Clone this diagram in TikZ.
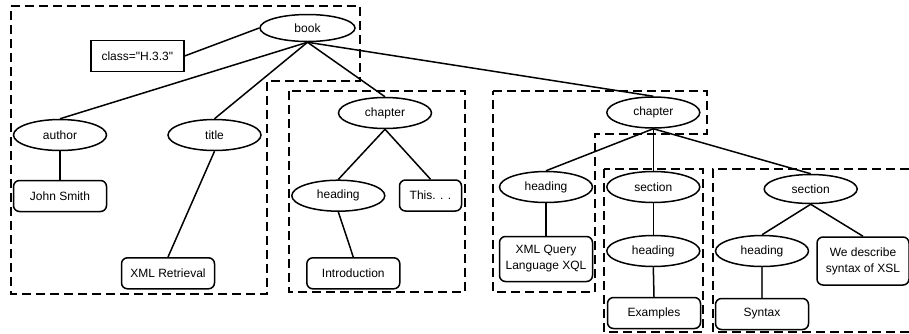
\documentclass[tikz,border=0pt]{standalone}
\usepackage{fontspec}
\setmainfont{Liberation Sans}[Ligatures=TeXOff]
\usetikzlibrary{shapes.geometric}
\tikzset{
  lin/.style={line width=1.5pt},
  thinlin/.style={line width=1.1pt, black!75},
  basefont/.style={font=\fontsize{12}{16}\selectfont},
  ell/.style={ellipse, draw, line width=1.5pt, minimum width=93pt, minimum height=31pt, inner sep=0pt, basefont},
  txt/.style={rectangle, rounded corners=6pt, draw, line width=1.5pt, minimum width=93pt, minimum height=31pt, inner sep=0pt, align=center, basefont},
  attr/.style={rectangle, draw, line width=1.5pt, minimum width=93pt, minimum height=31pt, inner sep=0pt, basefont},
  grp/.style={line width=1.5pt, dash pattern=on 9pt off 5pt},
}
\begin{document}
\begin{tikzpicture}[x=1pt,y=-1pt]
\useasboundingbox (0,0) rectangle (909,333);
% group outlines
\draw[grp] (11,6) -- (360,6) -- (360,81) -- (267,81) -- (267,294) -- (11,294) -- cycle;
\draw[grp] (289,91) rectangle (465,292);
\draw[grp] (493,91) -- (707,91) -- (707,134) -- (595,134) -- (595,292) -- (493,292) -- cycle;
\draw[grp] (604,169) rectangle (703,332);
\draw[grp] (909,169) -- (713,169) -- (713,332) -- (909,332);
% nodes
\node[ell, minimum width=95pt, minimum height=27pt] (book) at (307.5,28) {book};
\node[attr] (class) at (137.3,56) {class="H.3.3"};
\node[ell] (author) at (60,135) {author};
\node[ell] (title) at (214.5,135) {title};
\node[ell] (ch1) at (385,113) {chapter};
\node[ell] (ch2) at (653.3,112.5) {chapter};
\node[txt] (john) at (60,196) {John Smith};
\node[txt] (xmlr) at (168,273.3) {XML Retrieval};
\node[ell] (head1) at (338.3,195.7) {heading};
\node[txt, minimum width=62pt] (this) at (430.5,195.5) {This. . .};
\node[txt] (intro) at (353.3,273.3) {Introduction};
\node[ell] (head2) at (546,187) {heading};
\node[txt, minimum height=45pt] (xq) at (546,259) {XML Query\\Language XQL};
\node[ell] (sec1) at (653.3,187) {section};
\node[ell] (head3) at (653.3,251) {heading};
\node[txt] (ex) at (654,313) {Examples};
\node[ell, minimum height=29pt] (sec2) at (810.7,189) {section};
\node[ell] (head4) at (762,251) {heading};
\node[txt, minimum width=92pt, minimum height=48pt] (wd) at (863,261) {We describe\\syntax of XSL};
\node[txt] (syn) at (762,314) {Syntax};
% connectors
\draw[lin] (class.east) -- (book.west);
\draw[lin] (book.south) -- (author.north);
\draw[lin] (book.south) -- (title.north);
\draw[lin] (book.south) -- (ch1.north);
\draw[lin] (book.south) -- (ch2.north);
\draw[lin] (author.south) -- (john.north);
\draw[lin] (title.south) -- (xmlr.north);
\draw[lin] (ch1.south) -- (head1.north);
\draw[lin] (ch1.south) -- (this.north);
\draw[lin] (head1.south) -- (intro.north);
\draw[lin] (ch2.south) -- (head2.north);
\draw[lin] (ch2.south) -- (sec1.north);
\draw[lin] (ch2.south) -- (sec2.north);
\draw[lin] (head2.south) -- (xq.north);
\draw[lin] (sec1.south) -- (head3.north);
\draw[lin] (head3.south) -- (ex.north);
\draw[lin] (sec2.south) -- (head4.north);
\draw[lin] (sec2.south) -- (wd.north);
\draw[thinlin] (head4.south) -- (syn.north);
\end{tikzpicture}
\end{document}
